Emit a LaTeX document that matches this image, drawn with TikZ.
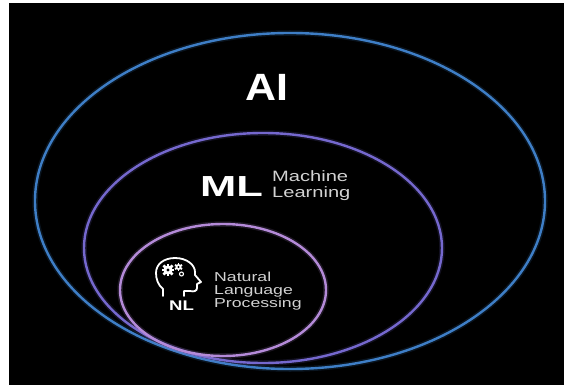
\documentclass[tikz,border=0pt]{standalone}
\usepackage{fontspec}
\setmainfont{Liberation Sans}
\definecolor{aiblue}{HTML}{3E7EC6}
\definecolor{mlpurple}{HTML}{7568CE}
\definecolor{nllilac}{HTML}{B48AD8}
\definecolor{labelgray}{HTML}{D2D2D2}
\tikzset{
  ring/.style={line width=2.4pt},
  glow/.style={line width=5.5pt, opacity=0.16},
  bigtag/.style={text=white, font=\bfseries, inner sep=0pt, anchor=base},
  smalltag/.style={text=labelgray, inner sep=0pt, anchor=base west},
}
\begin{document}
\begin{tikzpicture}[x=1pt,y=-1pt]
\useasboundingbox (0,0) rectangle (564,385);
\fill[white] (0,0) rectangle (564,385);
\fill[black] (9,3) rectangle (564,385);
% ellipses
\coordinate (aic) at (290,201);
\coordinate (mlc) at (263,248);
\coordinate (nlc) at (223,290);
\draw[glow, aiblue] (aic) ellipse [x radius=255pt, y radius=168pt];
\draw[ring, aiblue] (aic) ellipse [x radius=255pt, y radius=168pt];
\draw[glow, mlpurple] (mlc) ellipse [x radius=179pt, y radius=115pt];
\draw[ring, mlpurple] (mlc) ellipse [x radius=179pt, y radius=115pt];
\draw[glow, nllilac] (nlc) ellipse [x radius=103pt, y radius=66pt];
\draw[ring, nllilac] (nlc) ellipse [x radius=103pt, y radius=66pt];
% labels
\node[bigtag, font=\bfseries\fontsize{38}{38}\selectfont] (ai) at (266.5,100) {\scalebox{1.13}[1]{AI}};
\node[bigtag, font=\bfseries\fontsize{29}{29}\selectfont] (ml) at (231.5,196) {\scalebox{1.5}[1]{ML}};
\node[smalltag, font=\fontsize{15}{15}\selectfont] (mach) at (272,181) {\scalebox{1.34}[1]{Machine}};
\node[smalltag, font=\fontsize{15}{15}\selectfont] (learn) at (272,197) {\scalebox{1.34}[1]{Learning}};
\node[bigtag, font=\bfseries\fontsize{14}{14}\selectfont] (nl) at (181.5,310) {\scalebox{1.33}[1]{NL}};
\node[smalltag, font=\fontsize{13}{13}\selectfont] (nat) at (214,281) {\scalebox{1.36}[1]{Natural}};
\node[smalltag, font=\fontsize{13}{13}\selectfont] (lang) at (214,294) {\scalebox{1.36}[1]{Language}};
\node[smalltag, font=\fontsize{13}{13}\selectfont] (proc) at (214,307) {\scalebox{1.36}[1]{Processing}};
% head icon
\draw[white, line width=1.8pt, line join=round, line cap=round]
  (163,296) -- (163,289) .. controls (158,285) and (156,279) .. (156,273)
  .. controls (156,264) and (164,258) .. (175,258)
  .. controls (187,258) and (195,265) .. (195,272)
  -- (195,275) -- (201,282) -- (197,284) -- (197,288)
  .. controls (197,291) and (194,292) .. (190,291) -- (184,291) -- (184,296);
% big gear
\fill[white] (168,270) circle [radius=4.6pt];
\foreach \a in {0,45,...,315}
  \fill[white, rotate around={\a:(168,270)}] (166.7,263.6) rectangle (169.3,266.5);
\fill[black] (168,270) circle [radius=1.7pt];
% small gear
\fill[white] (178.5,267) circle [radius=3pt];
\foreach \a in {0,60,...,300}
  \fill[white, rotate around={\a:(178.5,267)}] (177.6,262.9) rectangle (179.4,265);
\fill[black] (178.5,267) circle [radius=1.1pt];
% tiny gear
\draw[white, line width=1.1pt] (181.5,274) circle [radius=2pt];
\end{tikzpicture}
\end{document}
